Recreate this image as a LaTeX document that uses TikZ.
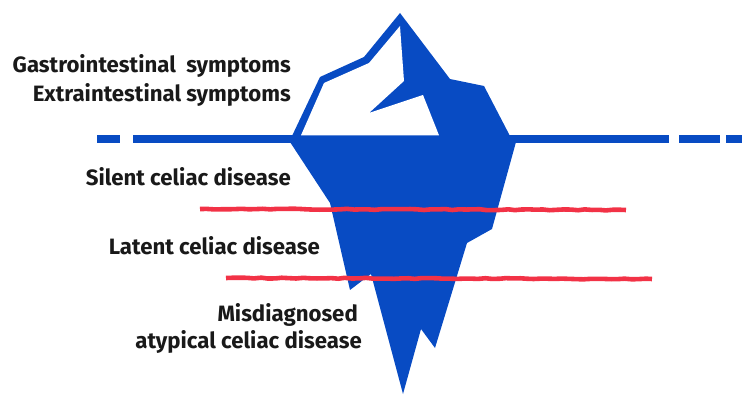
\documentclass[tikz,border=0pt]{standalone}
\usepackage{fontspec}
\setmainfont{Fira Sans}
\usetikzlibrary{decorations.pathmorphing}
\definecolor{iceblue}{RGB}{8,75,195}
\definecolor{penred}{RGB}{242,50,70}
\tikzset{
  water/.style={iceblue, line width=8pt},
  penline/.style={penred, line width=4.6pt, decorate, decoration={random steps, segment length=7pt, amplitude=0.5pt}},
  lab/.style={anchor=east, font=\fontsize{22.2}{22}\selectfont\bfseries, text=black!90, inner sep=0pt}
}
\begin{document}
\begin{tikzpicture}[x=1pt,y=-1pt]
\useasboundingbox (0,0) rectangle (750,414);
% waterline
\draw[water] (97,139.3) -- (120,139.3);
\draw[water] (133,139.3) -- (669,139.3);
\draw[water] (679,139.3) -- (720,139.3);
\draw[water] (726,139.3) -- (742,139.3);
% iceberg above water
\fill[iceblue] (292,136) -- (320,77) -- (364,57) -- (400,13) -- (450,79) -- (484,86) -- (510,136) -- cycle;
\fill[white] (301,135.3) -- (324,83) -- (369,63) -- (400,26) -- (404,81) -- (369,113) -- (423,95) -- (439,135.3) -- cycle;
% iceberg under water
\fill[iceblue] (290,142) -- (330,203) -- (350,290) -- (371,274) -- (403,394) -- (421,329) -- (435,348) -- (467,243) -- (492,229) -- (516,142) -- cycle;
% red lines
\coordinate (a1) at (200,209);
\coordinate (a2) at (626,210);
\coordinate (b1) at (226,278);
\coordinate (b2) at (652,279);
\draw[penline] (a1) -- (a2);
\draw[penline] (b1) -- (b2);
% labels
\node[lab] (gastro) at (291,66) {Gastrointestinal\ \ symptoms};
\node[lab] (extra) at (291,95) {Extraintestinal symptoms};
\node[lab] (silent) at (291,177) {Silent celiac disease};
\node[lab] (latent) at (320,246) {Latent celiac disease};
\node[lab] (misdiag) at (358,315) {Misdiagnosed};
\node[lab] (atyp) at (362,342) {atypical celiac disease};
\end{tikzpicture}
\end{document}
